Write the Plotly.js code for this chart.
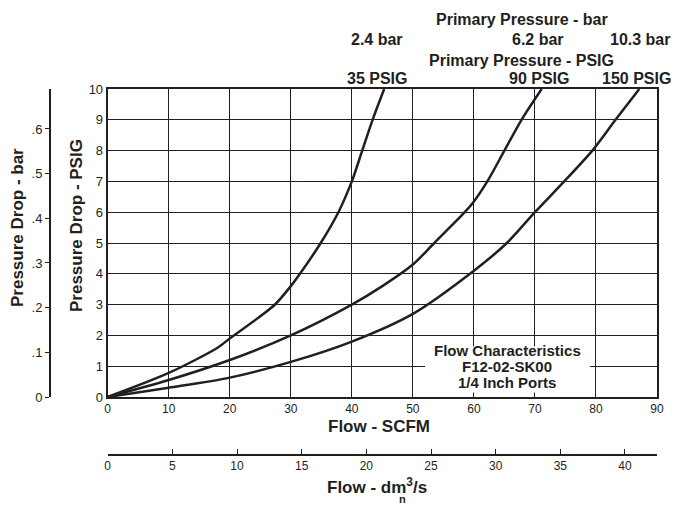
<!DOCTYPE html>
<html><head><meta charset="utf-8">
<script src="https://cdn.plot.ly/plotly-3.0.1.min.js"></script>
<style>html,body{margin:0;padding:0;background:#fff}#chart{width:678px;height:505px}</style>
</head><body><div id="chart"></div>
<script>
// Flow (SCFM) vs pressure drop (PSIG) for three primary pressures
const flow35  = [0, 10, 18, 20, 25, 27.5, 30, 31.5, 34.9, 37.8, 40, 41.7, 43.4, 45.3];
const drop35  = [0, 0.78, 1.6, 1.9, 2.62, 3.02, 3.6, 4, 5, 6, 7, 8, 9, 10];
const flow90  = [0, 10, 20, 30, 40, 45, 50, 53.5, 58.5, 60, 62.2, 65, 67.8, 71.1];
const drop90  = [0, 0.55, 1.2, 2.0, 3.0, 3.6, 4.3, 5, 6, 6.35, 7, 8, 9, 10];
const flow150 = [0, 10, 20, 30, 40, 50, 60, 65.4, 70, 74.8, 79.4, 83.2, 87.1];
const drop150 = [0, 0.3, 0.63, 1.14, 1.8, 2.7, 4.1, 5, 6, 7, 8, 9, 10];

const barLabels  = ['2.4 bar', '6.2 bar', '10.3 bar'];
const psigLabels = ['35 PSIG', '90 PSIG', '150 PSIG'];
const barTickVals  = [0, 0.1, 0.2, 0.3, 0.4, 0.5, 0.6];
const barTickText  = ['0', '.1', '.2', '.3', '.4', '.5', '.6'];
const boxLines = ['Flow Characteristics', 'F12-02-SK00', '1/4 Inch Ports'];

const PSI_TO_BAR = 0.0689476;
const SCFM_PER_DM3S = 2.11888;

const FONT = 'Liberation Sans, Arial, Helvetica, sans-serif';
const INK = '#231f20';
const W = 657, BOTTOM = 455, H = 366;
const px = x => x / W;
const py = y => (BOTTOM - y) / H;

const lineStyle = {color: INK, width: 2.5, shape: 'spline', smoothing: 0.8};
const traces = [
  {x: flow35, y: drop35, mode: 'lines', line: lineStyle, name: psigLabels[0], hoverinfo: 'x+y'},
  {x: flow90, y: drop90, mode: 'lines', line: lineStyle, name: psigLabels[1], hoverinfo: 'x+y'},
  {x: flow150, y: drop150, mode: 'lines', line: lineStyle, name: psigLabels[2], hoverinfo: 'x+y'},
  // invisible traces to activate secondary axes
  {x: [0], y: [0], xaxis: 'x2', yaxis: 'y', mode: 'markers', marker: {opacity: 0}, hoverinfo: 'skip', showlegend: false},
  {x: [0], y: [0], xaxis: 'x', yaxis: 'y2', mode: 'markers', marker: {opacity: 0}, hoverinfo: 'skip', showlegend: false}
];

const bold = (size) => ({family: FONT, size: size, color: INK, weight: 'bold'});

const annotations = [
  {text: '<b>Primary Pressure - bar</b>', x: px(522), y: py(19), size: 16},
  {text: '<b>' + barLabels[0] + '</b>', x: px(377), y: py(39), size: 16},
  {text: '<b>' + barLabels[1] + '</b>', x: px(538), y: py(39), size: 16},
  {text: '<b>' + barLabels[2] + '</b>', x: px(640), y: py(39), size: 16},
  {text: '<b>Primary Pressure - PSIG</b>', x: px(521), y: py(60), size: 16},
  {text: '<b>' + psigLabels[0] + '</b>', x: px(377), y: py(79), size: 16},
  {text: '<b>' + psigLabels[1] + '</b>', x: px(539), y: py(79), size: 16},
  {text: '<b>' + psigLabels[2] + '</b>', x: px(636), y: py(79), size: 16},
  {text: '<b>Flow - SCFM</b>', x: px(379), y: py(426)},
  {text: '<b>Flow - dm<sup>3</sup>/s</b>', x: px(377), y: py(486)},
  {text: '<b>n</b>', x: px(402), y: py(499), size: 11},
  {text: '<b>Pressure Drop - PSIG</b>', x: px(76), y: py(226), angle: -90},
  {text: '<b>Pressure Drop - bar</b>', x: px(17), y: py(228), angle: -90}
].map(a => ({
  text: a.text, x: a.x, y: a.y, xref: 'paper', yref: 'paper',
  xanchor: 'center', yanchor: 'middle', showarrow: false,
  textangle: a.angle || 0, font: bold(a.size || 17)
}));

const boxY = [1.5, 0.98, 0.46];
boxLines.forEach((t, i) => annotations.push({
  text: '<b>' + t + '</b>', x: 65.5, y: boxY[i], xref: 'x', yref: 'y',
  xanchor: 'center', yanchor: 'middle', showarrow: false, font: bold(15)
}));

const layout = {
  width: 678, height: 505,
  margin: {l: 0, r: 21, t: 89, b: 50},
  paper_bgcolor: '#fff', plot_bgcolor: '#fff',
  showlegend: false,
  font: {family: FONT, color: INK},
  xaxis: {
    domain: [px(107.7), 1], range: [0, 90], anchor: 'y',
    tickvals: [0, 10, 20, 30, 40, 50, 60, 70, 80, 90],
    showgrid: true, gridcolor: INK, gridwidth: 1,
    showline: true, linecolor: INK, linewidth: 2, mirror: true,
    zeroline: false, ticks: '', tickfont: {family: FONT, size: 12, color: INK}
  },
  yaxis: {
    domain: [py(397), 1], range: [0, 10], anchor: 'x',
    tickvals: [0, 1, 2, 3, 4, 5, 6, 7, 8, 9, 10],
    showgrid: true, gridcolor: INK, gridwidth: 1,
    showline: true, linecolor: INK, linewidth: 2, mirror: true,
    zeroline: false, ticks: '', tickfont: {family: FONT, size: 13, color: INK}
  },
  xaxis2: {
    overlaying: 'x', anchor: 'free', position: 0, side: 'bottom',
    range: [0, 90 / SCFM_PER_DM3S],
    tickvals: [0, 5, 10, 15, 20, 25, 30, 35, 40],
    showgrid: false, zeroline: false,
    showline: true, linecolor: INK, linewidth: 2,
    ticks: 'inside', ticklen: 5, tickwidth: 1, tickcolor: INK,
    tickfont: {family: FONT, size: 12, color: INK}
  },
  yaxis2: {
    overlaying: 'y', anchor: 'free', position: px(49), side: 'left',
    range: [0, 10 * PSI_TO_BAR],
    tickvals: barTickVals, ticktext: barTickText,
    showgrid: false, zeroline: false,
    showline: true, linecolor: INK, linewidth: 1.5,
    ticks: 'outside', ticklen: 4, tickwidth: 1, tickcolor: INK,
    tickfont: {family: FONT, size: 13, color: INK}
  },
  shapes: [{
    type: 'rect', xref: 'x', yref: 'y', x0: 52, x1: 79, y0: 0.15, y1: 1.65,
    fillcolor: '#fff', line: {width: 0}, layer: 'between'
  }],
  annotations: annotations
};

Plotly.newPlot('chart', traces, layout, {displayModeBar: false, staticPlot: true});
</script>
</body></html>
